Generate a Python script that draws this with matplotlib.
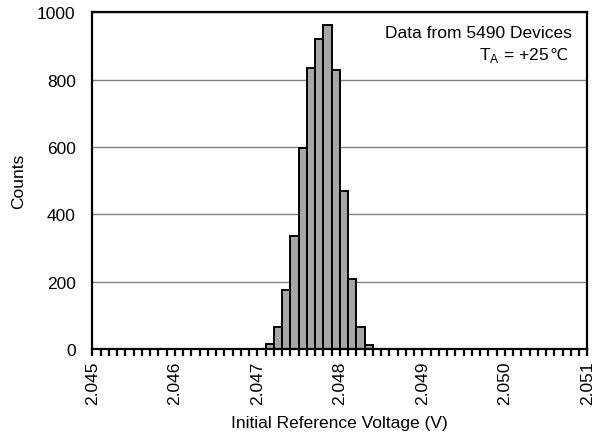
import matplotlib
matplotlib.use("Agg")
import matplotlib.pyplot as plt
from matplotlib.ticker import MultipleLocator, FormatStrFormatter
from matplotlib.transforms import offset_copy

plt.rcParams["font.family"] = ["Liberation Sans", "DejaVu Sans"]

# histogram bins (left edges, V) and counts
bin_left = [2.0471, 2.0472, 2.0473, 2.0474, 2.0475, 2.0476, 2.0477,
            2.0478, 2.0479, 2.0480, 2.0481, 2.0482, 2.0483]
counts = [15, 66, 175, 337, 597, 836, 920, 964, 830, 469, 208, 66, 12]
bin_width = 0.0001

FS = 12.5

fig = plt.figure(figsize=(5.92, 4.35), dpi=100)
ax = fig.add_axes([0.156, 0.195, 0.836, 0.774])

ax.bar(bin_left, counts, width=bin_width, align="edge",
       color="#a6a6a6", edgecolor="black", linewidth=1.4, zorder=3)

ax.set_xlim(2.045, 2.051)
ax.set_ylim(0, 1000)
ax.xaxis.set_major_locator(MultipleLocator(0.001))
ax.xaxis.set_minor_locator(MultipleLocator(0.0001))
ax.xaxis.set_major_formatter(FormatStrFormatter("%.3f"))
ax.yaxis.set_major_locator(MultipleLocator(200))

ax.grid(axis="y", color="#808080", linewidth=1.0, zorder=0)
for s in ax.spines.values():
    s.set_linewidth(1.6)
    s.set_zorder(4)

ax.tick_params(axis="x", which="both", direction="out", length=5,
               width=1.6, labelsize=FS, rotation=90, pad=3)
ax.tick_params(axis="y", length=0, labelsize=FS, pad=12)

ax.set_xlabel("Initial Reference Voltage (V)", fontsize=FS, labelpad=8)
ax.set_ylabel("Counts", fontsize=FS, labelpad=8)

ax.text(0.968, 0.962, "Data from 5490 Devices", transform=ax.transAxes,
        ha="right", va="top", fontsize=FS)

# temperature line: the degree-Celsius sign comes from DejaVu Sans
deg = ax.text(0.960, 0.862, "\u2103", transform=ax.transAxes,
              ha="right", va="baseline", fontsize=FS - 1, family="DejaVu Sans")
fig.canvas.draw()
w = deg.get_window_extent().width
ax.text(0.960, 0.862, "T$_\\mathregular{A}$ = +25",
        transform=offset_copy(ax.transAxes, fig=fig, x=-w, y=0, units="dots"),
        ha="right", va="baseline", fontsize=FS)

fig.savefig("out.png", dpi=100)
